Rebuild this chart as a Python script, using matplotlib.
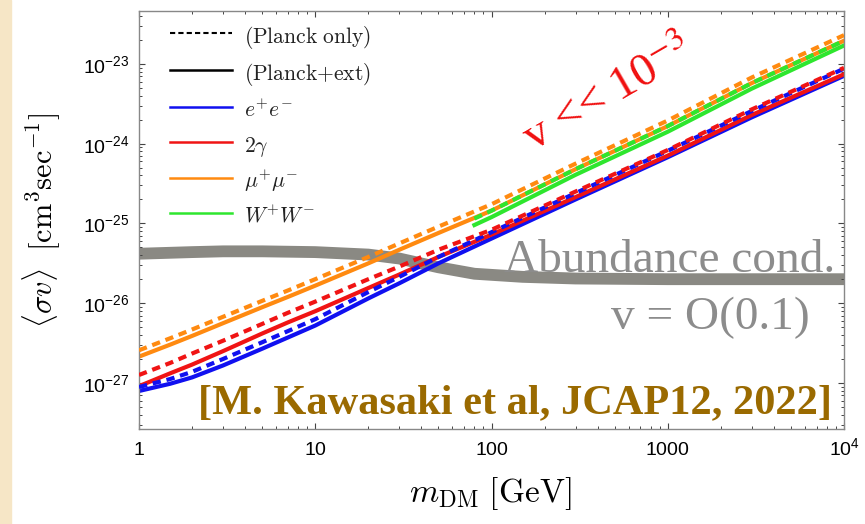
import matplotlib
matplotlib.use('Agg')
import matplotlib.pyplot as plt
import numpy as np
from matplotlib.ticker import LogLocator, NullFormatter, FixedLocator, FixedFormatter
from matplotlib.lines import Line2D
from matplotlib.patches import Rectangle
from matplotlib.font_manager import FontProperties

plt.rcParams['font.family'] = ['Liberation Sans', 'DejaVu Sans']
plt.rcParams['mathtext.fontset'] = 'custom'
plt.rcParams['mathtext.rm'] = 'Liberation Sans'
plt.rcParams['mathtext.it'] = 'Liberation Sans:italic'
plt.rcParams['mathtext.default'] = 'it'

# DM mass grid [GeV]
m_dm = [1, 1.5, 2, 3, 5, 7, 10, 20, 30, 50, 100, 300, 1000, 3000, 10000]
m_ww = [80, 100, 300, 1000, 3000, 10000]

# upper bounds on <sigma v> [cm^3/s]
mumu_planck = [2.57e-27, 3.63e-27, 4.68e-27, 6.76e-27, 1.07e-26, 1.445e-26, 2.00e-26, 3.80e-26,
               5.62e-26, 9.12e-26, 1.74e-25, 5.62e-25, 1.95e-24, 6.76e-24, 2.29e-23]
mumu_ext = [2.14e-27, 3.02e-27, 3.89e-27, 5.62e-27, 8.91e-27, 1.20e-26, 1.66e-26, 3.16e-26,
            4.68e-26, 7.59e-26, 1.445e-25, 4.79e-25, 1.66e-24, 5.75e-24, 1.95e-23]
ee_planck = [8.91e-28, 1.12e-27, 1.38e-27, 2.00e-27, 3.24e-27, 4.47e-27, 6.31e-27, 1.38e-26,
             2.14e-26, 3.80e-26, 7.76e-26, 2.40e-25, 8.13e-25, 2.57e-24, 8.71e-24]
ee_ext = [7.94e-28, 9.77e-28, 1.175e-27, 1.66e-27, 2.69e-27, 3.72e-27, 5.25e-27, 1.148e-26,
          1.778e-26, 3.16e-26, 6.46e-26, 2.00e-25, 6.76e-25, 2.14e-24, 7.08e-24]
gg_planck = [1.26e-27, 1.78e-27, 2.34e-27, 3.39e-27, 5.50e-27, 7.59e-27, 1.047e-26, 2.00e-26,
             2.88e-26, 4.68e-26, 8.32e-26, 2.51e-25, 8.32e-25, 2.69e-24, 8.91e-24]
gg_ext = [9.12e-28, 1.32e-27, 1.70e-27, 2.51e-27, 4.17e-27, 5.75e-27, 7.94e-27, 1.55e-26,
          2.29e-26, 3.80e-26, 7.24e-26, 2.14e-25, 7.08e-25, 2.29e-24, 7.41e-24]
ww_planck = [1.15e-25, 1.445e-25, 4.79e-25, 1.66e-24, 5.75e-24, 1.95e-23]
ww_ext = [9.55e-26, 1.20e-25, 4.07e-25, 1.41e-24, 4.90e-24, 1.70e-23]

# thermal abundance condition
m_relic = [1, 2, 3, 5, 10, 20, 30, 50, 80, 150, 300, 1000, 10000]
sv_relic = [4.17e-26, 4.37e-26, 4.47e-26, 4.47e-26, 4.37e-26, 4.07e-26, 3.63e-26, 2.82e-26,
            2.34e-26, 2.14e-26, 2.04e-26, 2.0e-26, 2.0e-26]

x_ticks = [1, 10, 100, 1000, 10000]
x_labels = [r'$\mathdefault{1}$', r'$\mathdefault{10}$', r'$\mathdefault{100}$',
            r'$\mathdefault{1000}$', r'$\mathdefault{10^{4}}$']
y_ticks = [1e-27, 1e-26, 1e-25, 1e-24, 1e-23]

BLUE = '#1010F0'
RED = '#F01414'
ORANGE = '#FF8A10'
GREEN = '#2EE62E'
GRAY = '#8A8983'

fig = plt.figure(figsize=(8.65, 5.24), dpi=100)
fig.patches.append(Rectangle((0, 0), 11 / 865, 1, transform=fig.transFigure,
                             color='#F6E6C6', zorder=-1))
ax = fig.add_axes([139 / 865, 1 - 429 / 524, 705 / 865, 418 / 524])

ax.plot(m_relic, sv_relic, color=GRAY, lw=8.5, solid_capstyle='butt', zorder=1)

lw = 3.0
dash = (2.0, 1.4)
ax.plot(m_dm, ee_ext, color=BLUE, lw=lw, zorder=2)
ax.plot(m_dm, gg_ext, color=RED, lw=lw, zorder=2)
ax.plot(m_dm, ee_planck, color=BLUE, lw=lw, dashes=dash, zorder=3)
ax.plot(m_dm, gg_planck, color=RED, lw=lw, dashes=dash, zorder=3)
ax.plot(m_dm, mumu_ext, color=ORANGE, lw=lw, zorder=2)
ax.plot(m_ww, ww_ext, color=GREEN, lw=lw, zorder=2)
ax.plot(m_ww, ww_planck, color=GREEN, lw=lw, dashes=dash, zorder=3)
ax.plot(m_dm, mumu_planck, color=ORANGE, lw=lw, dashes=dash, zorder=3)

ax.set_xscale('log')
ax.set_yscale('log')
ax.set_xlim(1, 1e4)
ax.set_ylim(2.65e-28, 4.6e-23)

ax.xaxis.set_major_locator(FixedLocator(x_ticks))
ax.xaxis.set_major_formatter(FixedFormatter(x_labels))
ax.xaxis.set_minor_locator(LogLocator(base=10, subs=np.arange(2, 10)))
ax.xaxis.set_minor_formatter(NullFormatter())
ax.yaxis.set_major_locator(FixedLocator(y_ticks))
ax.yaxis.set_minor_locator(LogLocator(base=10, subs=np.arange(2, 10), numticks=20))
ax.yaxis.set_minor_formatter(NullFormatter())

ax.tick_params(which='both', direction='in', top=True, right=True, color='#444444')
ax.tick_params(which='major', length=4.5, width=0.8, labelsize=14)
ax.tick_params(axis='y', which='major', pad=7)
ax.tick_params(axis='x', which='major', pad=18.5)
ax.tick_params(which='minor', length=2.3, width=0.7)
for lbl in ax.get_xticklabels():
    lbl.set_va('baseline')
for s in ax.spines.values():
    s.set_color('#888888')
    s.set_linewidth(1.0)

ax.set_xlabel(r'$m_{\rm DM}$ $[\rm GeV]$', fontsize=24, math_fontfamily='cm')
ax.xaxis.set_label_coords(0.498, -0.11)
ylab = ax.set_ylabel(r'$\langle\sigma v\rangle$  $[\rm cm^3 sec^{-1}]$', fontsize=22,
                     math_fontfamily='cm')
ax.yaxis.set_label_coords(-0.109, 0.5)
# size the y label to the span it has in the figure (about 215 px)
fig.canvas.draw()
span = ylab.get_window_extent().height
ylab.set_fontsize(22 * 215 / span)

# legend
handles = [
    Line2D([], [], color='black', lw=1.5, dashes=(2.5, 1.5)),
    Line2D([], [], color='black', lw=1.8),
    Line2D([], [], color=BLUE, lw=1.8),
    Line2D([], [], color=RED, lw=1.8),
    Line2D([], [], color=ORANGE, lw=1.8),
    Line2D([], [], color=GREEN, lw=1.8),
]
labels = [r'$\rm (Planck\ only)$', r'$\rm (Planck{+}ext)$', r'$e^{+}e^{-}$',
          r'$2\gamma$', r'$\mu^{+}\mu^{-}$', r'$W^{+}W^{-}$']
leg_font = FontProperties(size=15.5, math_fontfamily='cm')
leg = ax.legend(handles, labels, loc='upper left', bbox_to_anchor=(0.044, 0.971),
                frameon=False, prop=leg_font, borderpad=0, borderaxespad=0,
                handlelength=2.88, handleheight=1.5, labelspacing=0.40, handletextpad=0.56)
for t in leg.get_texts():
    t.set_color('#222222')

# annotations
ax.text(0.665, 0.799, r'v << 10$^{-3}$', transform=ax.transAxes, color='#F01010',
        fontsize=34, family='Liberation Serif', math_fontfamily='stix',
        rotation=30, ha='center', va='center', rotation_mode='anchor')
ax.text(0.987, 0.376, 'Abundance cond.', transform=ax.transAxes, color='#8C8C8C',
        fontsize=34, family='Liberation Serif', ha='right', va='baseline')
ax.text(0.952, 0.24, 'v = O(0.1)', transform=ax.transAxes, color='#8C8C8C',
        fontsize=34, family='Liberation Serif', ha='right', va='baseline')
ax.text(0.983, 0.038, '[M. Kawasaki et al, JCAP12, 2022]', transform=ax.transAxes,
        color='#9A6A00', fontsize=30.5, family='Liberation Serif', weight='bold',
        ha='right', va='baseline')

fig.savefig('out.png', dpi=100)
